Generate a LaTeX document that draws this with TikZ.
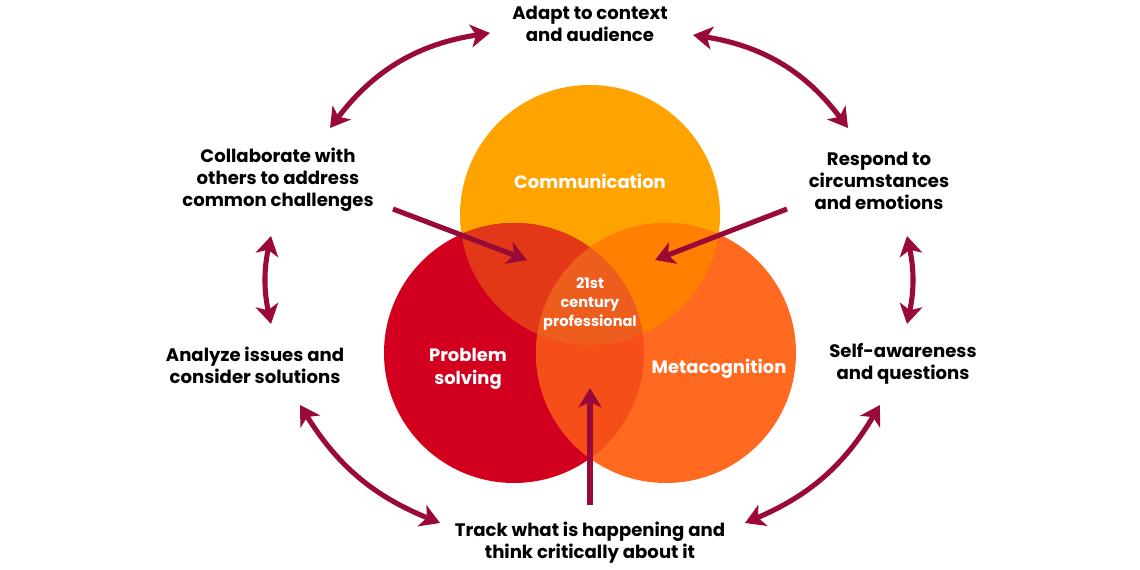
\documentclass[tikz,border=0pt]{standalone}
\usepackage{fontspec}
\setmainfont{Poppins}
\usetikzlibrary{arrows.meta}

\definecolor{commcol}{HTML}{FFA300}
\definecolor{probcol}{HTML}{D2001E}
\definecolor{metacol}{HTML}{FF6920}
\definecolor{cpcol}{HTML}{E23817}
\definecolor{cmcol}{HTML}{FF7F00}
\definecolor{pmcol}{HTML}{F54E18}
\definecolor{midcol}{HTML}{EC5D1E}
\definecolor{linkcol}{HTML}{990A38}

\begin{document}
\begin{tikzpicture}[x=0.02cm,y=-0.02cm]
  \tikzset{outertext/.style = {font=\bfseries\fontsize{10.3}{12.6}\selectfont, align=center, text=black, inner sep=0pt}}
  \tikzset{circletext/.style = {font=\bfseries\fontsize{10.2}{13}\selectfont, align=center, text=white, inner sep=0pt}}
  \tikzset{link/.style = {draw=linkcol, line width=2.9pt, -{Stealth[length=11pt,width=13pt,inset=3pt]}}}
  \tikzset{twoway/.style = {link, {Stealth[length=11pt,width=13pt,inset=3pt]}-{Stealth[length=11pt,width=13pt,inset=3pt]}}}

\useasboundingbox (0,0) rectangle (1140,570);

% the three circles
\coordinate (cc) at (590,215);
\coordinate (pc) at (514,353);
\coordinate (mc) at (666,353);
\fill[commcol] (cc) circle (130);
\fill[probcol] (pc) circle (130);
\fill[metacol] (mc) circle (130);

% overlaps
\begin{scope} \clip (cc) circle (130); \fill[cpcol] (pc) circle (130); \end{scope}
\begin{scope} \clip (cc) circle (130); \fill[cmcol] (mc) circle (130); \end{scope}
\begin{scope} \clip (pc) circle (130); \fill[pmcol] (mc) circle (130); \end{scope}
\begin{scope} \clip (cc) circle (130); \clip (pc) circle (130); \fill[midcol] (mc) circle (130); \end{scope}

\node[circletext] (comm) at (590,181) {Communication};
\node[circletext] (prob) at (468,369) {Problem\\solving};
\node[circletext] (meta) at (719,369) {Metacognition};
\node[circletext, font=\bfseries\fontsize{8.3}{10.6}\selectfont] (pro) at (590,304) {21st\\century\\professional};

\node[outertext] (adapt) at (590,24) {Adapt to context\\and audience};
\node[outertext] (collab) at (278,180) {Collaborate with\\others to address\\common challenges};
\node[outertext] (respond) at (879,181) {Respond to\\circumstances\\and emotions};
\node[outertext] (analyze) at (255,365) {Analyze issues and\\consider solutions};
\node[outertext] (self) at (903,364) {Self-awareness\\and questions};
\node[outertext] (track) at (590,543) {Track what is happening and\\think critically about it};

% arrow ends
\coordinate (a1) at (330,128);
\coordinate (a2) at (490,33);
\coordinate (b1) at (693,35);
\coordinate (b2) at (848,128);
\coordinate (c1) at (271,236);
\coordinate (c2) at (271,324);
\coordinate (d1) at (907,236);
\coordinate (d2) at (907,324);
\coordinate (e1) at (300,405);
\coordinate (e2) at (440,523);
\coordinate (f1) at (745,523);
\coordinate (f2) at (880,405);
\coordinate (g1) at (393,209);
\coordinate (g2) at (527,260);
\coordinate (h1) at (787,209);
\coordinate (h2) at (655,260);
\coordinate (k1) at (590,505);
\coordinate (k2) at (590,388);

    \draw[twoway] (a1) to[bend left=22] (a2);
    \draw[twoway] (b1) to[bend left=22] (b2);
    \draw[twoway] (c1) to[bend right=12] (c2);
    \draw[twoway] (d1) to[bend left=12] (d2);
    \draw[twoway] (e1) to[bend right=18] (e2);
    \draw[twoway] (f1) to[bend right=18] (f2);

    \draw[link] (g1) -- (g2);
    \draw[link] (h1) -- (h2);
    \draw[link] (k1) -- (k2);

\end{tikzpicture}
\end{document}
